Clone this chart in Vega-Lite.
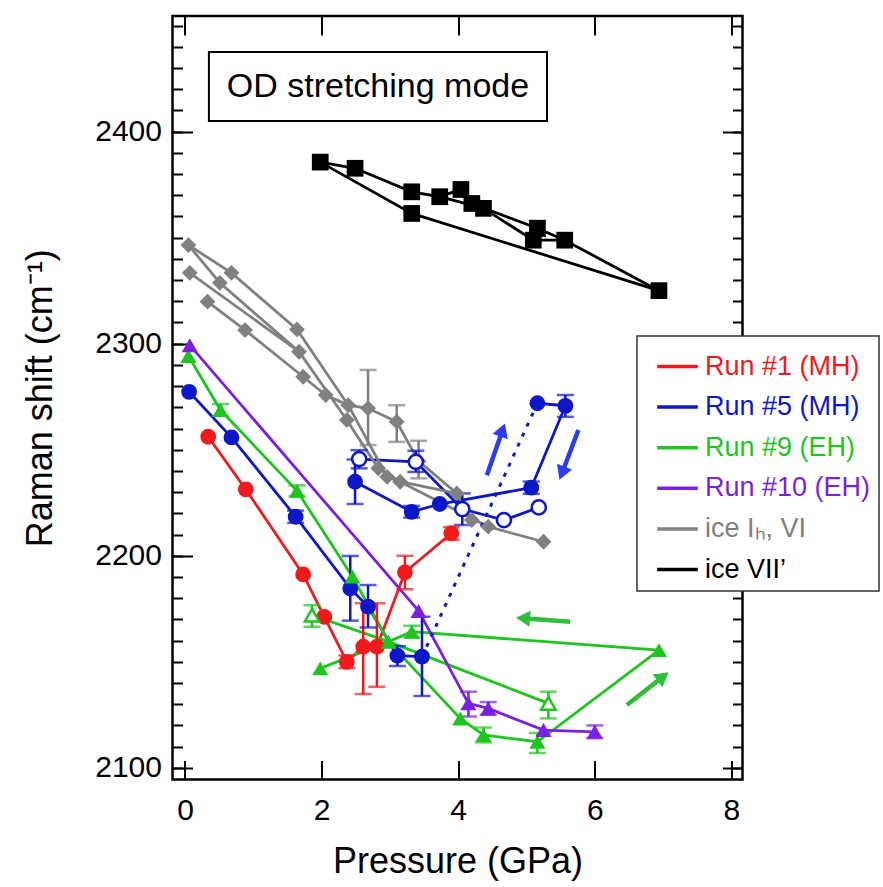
{
  "$schema": "https://vega.github.io/schema/vega-lite/v6.json",
  "width": 570,
  "height": 763.5,
  "autosize": {"type": "none"},
  "padding": {"left": 172.5, "top": 16, "right": 140.5, "bottom": 107.5},
  "background": "white",
  "config": {
    "view": {"stroke": "#000", "strokeWidth": 2.5},
    "font": "Liberation Sans",
    "axis": {"grid": false, "domain": false, "tickColor": "#000", "tickWidth": 2, "labelColor": "#000", "titleColor": "#000", "labelFont": "Liberation Sans", "titleFont": "Liberation Sans", "titleFontWeight": "normal", "labelFontSize": 30, "titleFontSize": 36}
  },
  "datasets": {
    "box": [{"t": "OD stretching mode", "x": 0.35, "x2": 5.30, "y": 2405, "y2": 2437.5, "tx": 2.825, "ty": 2421.2}],
    "arrows": [
      {"a": "b1", "x": 4.42, "y": 2238.0, "x2": 4.65, "y2": 2259.3},
      {"a": "b2", "x": 5.76, "y": 2259.3, "x2": 5.52, "y2": 2238.9},
      {"a": "g1", "x": 5.64, "y": 2168.9, "x2": 4.95, "y2": 2170.5},
      {"a": "g2", "x": 6.47, "y": 2129.6, "x2": 7.0, "y2": 2143}
    ],
    "paths": [
      {"p": "r1", "r": "Run #1 (MH)", "o": 1, "x": 0.34, "y": 2256.1},
      {"p": "r1", "r": "Run #1 (MH)", "o": 2, "x": 0.89, "y": 2231.3},
      {"p": "r1", "r": "Run #1 (MH)", "o": 3, "x": 1.73, "y": 2191.2},
      {"p": "r1", "r": "Run #1 (MH)", "o": 4, "x": 2.04, "y": 2171.2},
      {"p": "r1", "r": "Run #1 (MH)", "o": 5, "x": 2.37, "y": 2150},
      {"p": "r1", "r": "Run #1 (MH)", "o": 6, "x": 2.61, "y": 2157.1},
      {"p": "r1", "r": "Run #1 (MH)", "o": 7, "x": 2.81, "y": 2157.1},
      {"p": "r1", "r": "Run #1 (MH)", "o": 8, "x": 3.22, "y": 2192.2},
      {"p": "r1", "r": "Run #1 (MH)", "o": 9, "x": 3.90, "y": 2210.6},
      {"p": "r5a", "r": "Run #5 (MH)", "o": 1, "x": 0.06, "y": 2277.3},
      {"p": "r5a", "r": "Run #5 (MH)", "o": 2, "x": 0.68, "y": 2255.8},
      {"p": "r5a", "r": "Run #5 (MH)", "o": 3, "x": 1.62, "y": 2218.4},
      {"p": "r5a", "r": "Run #5 (MH)", "o": 4, "x": 2.42, "y": 2184.6},
      {"p": "r5a", "r": "Run #5 (MH)", "o": 5, "x": 2.68, "y": 2176},
      {"p": "r5a", "r": "Run #5 (MH)", "o": 6, "x": 3.11, "y": 2152.9},
      {"p": "r5a", "r": "Run #5 (MH)", "o": 7, "x": 3.47, "y": 2152.4},
      {"p": "r5d", "r": "Run #5 (MH)", "o": 1, "x": 3.47, "y": 2152.4},
      {"p": "r5d", "r": "Run #5 (MH)", "o": 2, "x": 5.16, "y": 2271.9},
      {"p": "r5b", "r": "Run #5 (MH)", "o": 1, "x": 5.16, "y": 2271.9},
      {"p": "r5b", "r": "Run #5 (MH)", "o": 2, "x": 5.57, "y": 2270.7},
      {"p": "r5b", "r": "Run #5 (MH)", "o": 3, "x": 5.07, "y": 2232.1},
      {"p": "r5b", "r": "Run #5 (MH)", "o": 4, "x": 3.73, "y": 2224.4},
      {"p": "r5b", "r": "Run #5 (MH)", "o": 5, "x": 3.32, "y": 2220.7},
      {"p": "r5b", "r": "Run #5 (MH)", "o": 6, "x": 2.49, "y": 2234.9},
      {"p": "r5o", "r": "Run #5 (MH)", "o": 1, "x": 2.55, "y": 2245.6},
      {"p": "r5o", "r": "Run #5 (MH)", "o": 2, "x": 3.38, "y": 2244.3},
      {"p": "r5o", "r": "Run #5 (MH)", "o": 3, "x": 4.06, "y": 2222},
      {"p": "r5o", "r": "Run #5 (MH)", "o": 4, "x": 4.67, "y": 2216.8},
      {"p": "r5o", "r": "Run #5 (MH)", "o": 5, "x": 5.18, "y": 2222.8},
      {"p": "r9a", "r": "Run #9 (EH)", "o": 1, "x": 0.05, "y": 2294.2},
      {"p": "r9a", "r": "Run #9 (EH)", "o": 2, "x": 0.52, "y": 2268.7},
      {"p": "r9a", "r": "Run #9 (EH)", "o": 3, "x": 1.64, "y": 2230.6},
      {"p": "r9a", "r": "Run #9 (EH)", "o": 4, "x": 2.45, "y": 2190.2},
      {"p": "r9a", "r": "Run #9 (EH)", "o": 5, "x": 2.98, "y": 2159.5},
      {"p": "r9a", "r": "Run #9 (EH)", "o": 6, "x": 4.03, "y": 2123.3},
      {"p": "r9a", "r": "Run #9 (EH)", "o": 7, "x": 4.37, "y": 2115.5},
      {"p": "r9a", "r": "Run #9 (EH)", "o": 8, "x": 5.16, "y": 2112.3},
      {"p": "r9a", "r": "Run #9 (EH)", "o": 9, "x": 6.94, "y": 2155.5},
      {"p": "r9a", "r": "Run #9 (EH)", "o": 10, "x": 3.32, "y": 2164.2},
      {"p": "r9a", "r": "Run #9 (EH)", "o": 11, "x": 2.98, "y": 2159.5},
      {"p": "r9a", "r": "Run #9 (EH)", "o": 12, "x": 1.98, "y": 2146.9},
      {"p": "r9o", "r": "Run #9 (EH)", "o": 1, "x": 1.86, "y": 2172},
      {"p": "r9o", "r": "Run #9 (EH)", "o": 2, "x": 2.98, "y": 2159.5},
      {"p": "r9o", "r": "Run #9 (EH)", "o": 3, "x": 5.32, "y": 2130.4},
      {"p": "r10", "r": "Run #10 (EH)", "o": 1, "x": 0.07, "y": 2299.3},
      {"p": "r10", "r": "Run #10 (EH)", "o": 2, "x": 3.42, "y": 2174},
      {"p": "r10", "r": "Run #10 (EH)", "o": 3, "x": 4.15, "y": 2130.4},
      {"p": "r10", "r": "Run #10 (EH)", "o": 4, "x": 4.44, "y": 2128},
      {"p": "r10", "r": "Run #10 (EH)", "o": 5, "x": 5.25, "y": 2117.8},
      {"p": "r10", "r": "Run #10 (EH)", "o": 6, "x": 6.0, "y": 2117},
      {"p": "k1", "r": "ice VII’", "o": 1, "x": 1.98, "y": 2385.6},
      {"p": "k1", "r": "ice VII’", "o": 2, "x": 3.32, "y": 2361.4},
      {"p": "k1", "r": "ice VII’", "o": 3, "x": 6.94, "y": 2325},
      {"p": "k2", "r": "ice VII’", "o": 1, "x": 1.98, "y": 2385.6},
      {"p": "k2", "r": "ice VII’", "o": 2, "x": 2.49, "y": 2382.7},
      {"p": "k2", "r": "ice VII’", "o": 3, "x": 3.32, "y": 2371.6},
      {"p": "k2", "r": "ice VII’", "o": 4, "x": 3.73, "y": 2369.3},
      {"p": "k2", "r": "ice VII’", "o": 5, "x": 4.04, "y": 2372.7},
      {"p": "k2", "r": "ice VII’", "o": 6, "x": 4.20, "y": 2366.1},
      {"p": "k2", "r": "ice VII’", "o": 7, "x": 5.16, "y": 2354.4},
      {"p": "k2", "r": "ice VII’", "o": 8, "x": 5.56, "y": 2348.8},
      {"p": "k2", "r": "ice VII’", "o": 9, "x": 6.94, "y": 2325},
      {"p": "k3", "r": "ice VII’", "o": 1, "x": 3.73, "y": 2369.3},
      {"p": "k3", "r": "ice VII’", "o": 2, "x": 4.37, "y": 2363.8},
      {"p": "k3", "r": "ice VII’", "o": 3, "x": 5.10, "y": 2348.8},
      {"p": "k3", "r": "ice VII’", "o": 4, "x": 5.56, "y": 2348.8},
      {"p": "g1", "r": "ice Iₕ, VI", "o": 1, "x": 0.05, "y": 2346.5},
      {"p": "g1", "r": "ice Iₕ, VI", "o": 2, "x": 0.68, "y": 2333.4},
      {"p": "g1", "r": "ice Iₕ, VI", "o": 3, "x": 1.64, "y": 2306.7},
      {"p": "g1", "r": "ice Iₕ, VI", "o": 4, "x": 2.39, "y": 2271},
      {"p": "g1", "r": "ice Iₕ, VI", "o": 5, "x": 2.68, "y": 2269.5},
      {"p": "g1", "r": "ice Iₕ, VI", "o": 6, "x": 3.10, "y": 2263.2},
      {"p": "g1", "r": "ice Iₕ, VI", "o": 7, "x": 3.42, "y": 2244.6},
      {"p": "g1", "r": "ice Iₕ, VI", "o": 8, "x": 3.98, "y": 2229.4},
      {"p": "g1", "r": "ice Iₕ, VI", "o": 9, "x": 4.20, "y": 2216.8},
      {"p": "g2", "r": "ice Iₕ, VI", "o": 1, "x": 0.05, "y": 2346.5},
      {"p": "g2", "r": "ice Iₕ, VI", "o": 2, "x": 0.51, "y": 2328.7},
      {"p": "g2", "r": "ice Iₕ, VI", "o": 3, "x": 1.67, "y": 2296.2},
      {"p": "g2", "r": "ice Iₕ, VI", "o": 4, "x": 2.37, "y": 2264},
      {"p": "g2", "r": "ice Iₕ, VI", "o": 5, "x": 2.83, "y": 2241.2},
      {"p": "g2", "r": "ice Iₕ, VI", "o": 6, "x": 3.15, "y": 2234.9},
      {"p": "g2", "r": "ice Iₕ, VI", "o": 7, "x": 3.98, "y": 2229.4},
      {"p": "g3", "r": "ice Iₕ, VI", "o": 1, "x": 0.07, "y": 2333.4},
      {"p": "g3", "r": "ice Iₕ, VI", "o": 2, "x": 1.67, "y": 2296.2},
      {"p": "g4", "r": "ice Iₕ, VI", "o": 1, "x": 0.33, "y": 2319.8},
      {"p": "g4", "r": "ice Iₕ, VI", "o": 2, "x": 0.88, "y": 2306.4},
      {"p": "g4", "r": "ice Iₕ, VI", "o": 3, "x": 1.73, "y": 2284.4},
      {"p": "g4", "r": "ice Iₕ, VI", "o": 4, "x": 2.06, "y": 2275.8},
      {"p": "g4", "r": "ice Iₕ, VI", "o": 5, "x": 2.39, "y": 2271},
      {"p": "g4", "r": "ice Iₕ, VI", "o": 6, "x": 2.96, "y": 2237.2},
      {"p": "g4", "r": "ice Iₕ, VI", "o": 7, "x": 3.15, "y": 2234.9},
      {"p": "g4", "r": "ice Iₕ, VI", "o": 8, "x": 4.44, "y": 2213.7},
      {"p": "g4", "r": "ice Iₕ, VI", "o": 9, "x": 5.25, "y": 2206.6}
    ],
    "pts": [
      {"r": "Run #1 (MH)", "x": 0.34, "y": 2256.1},
      {"r": "Run #1 (MH)", "x": 0.89, "y": 2231.3},
      {"r": "Run #1 (MH)", "x": 1.73, "y": 2191.2},
      {"r": "Run #1 (MH)", "x": 2.04, "y": 2171.2},
      {"r": "Run #1 (MH)", "x": 2.37, "y": 2150, "lo": 2147, "hi": 2153},
      {"r": "Run #1 (MH)", "x": 2.61, "y": 2157.1, "lo": 2134.8, "hi": 2177.6},
      {"r": "Run #1 (MH)", "x": 2.81, "y": 2157.1, "lo": 2138.2, "hi": 2177.6},
      {"r": "Run #1 (MH)", "x": 3.22, "y": 2192.2, "lo": 2184.2, "hi": 2200},
      {"r": "Run #1 (MH)", "x": 3.90, "y": 2210.6, "lo": 2207.5, "hi": 2213.5},
      {"r": "Run #5 (MH)", "x": 0.06, "y": 2277.3},
      {"r": "Run #5 (MH)", "x": 0.68, "y": 2255.8},
      {"r": "Run #5 (MH)", "x": 1.62, "y": 2218.4, "lo": 2215.5, "hi": 2221.3},
      {"r": "Run #5 (MH)", "x": 2.42, "y": 2184.6, "lo": 2169.4, "hi": 2199.9},
      {"r": "Run #5 (MH)", "x": 2.68, "y": 2176, "lo": 2166.2, "hi": 2186.2},
      {"r": "Run #5 (MH)", "x": 3.11, "y": 2152.9, "lo": 2148, "hi": 2157.4},
      {"r": "Run #5 (MH)", "x": 3.47, "y": 2152.4, "lo": 2133.9, "hi": 2171.2},
      {"r": "Run #5 (MH)", "x": 5.16, "y": 2271.9},
      {"r": "Run #5 (MH)", "x": 5.57, "y": 2270.7, "lo": 2265.5, "hi": 2275.8},
      {"r": "Run #5 (MH)", "x": 5.07, "y": 2232.1, "lo": 2229.2, "hi": 2235},
      {"r": "Run #5 (MH)", "x": 3.73, "y": 2224.4},
      {"r": "Run #5 (MH)", "x": 3.32, "y": 2220.7, "lo": 2218, "hi": 2223.5},
      {"r": "Run #5 (MH)", "x": 2.49, "y": 2234.9, "lo": 2224.4, "hi": 2245.4},
      {"r": "Run #5 (MH)", "x": 2.55, "y": 2245.6, "lo": 2241.2, "hi": 2249.8, "op": true},
      {"r": "Run #5 (MH)", "x": 3.38, "y": 2244.3, "lo": 2239.5, "hi": 2249.5, "op": true},
      {"r": "Run #5 (MH)", "x": 4.06, "y": 2222, "lo": 2214.5, "hi": 2229.4, "op": true},
      {"r": "Run #5 (MH)", "x": 4.67, "y": 2216.8, "op": true},
      {"r": "Run #5 (MH)", "x": 5.18, "y": 2222.8, "op": true},
      {"r": "Run #9 (EH)", "x": 0.05, "y": 2294.2},
      {"r": "Run #9 (EH)", "x": 0.52, "y": 2268.7, "lo": 2266, "hi": 2271.5},
      {"r": "Run #9 (EH)", "x": 1.64, "y": 2230.6, "lo": 2228, "hi": 2233.2},
      {"r": "Run #9 (EH)", "x": 2.45, "y": 2190.2},
      {"r": "Run #9 (EH)", "x": 2.98, "y": 2159.5},
      {"r": "Run #9 (EH)", "x": 4.03, "y": 2123.3},
      {"r": "Run #9 (EH)", "x": 4.37, "y": 2115.5, "lo": 2112, "hi": 2119},
      {"r": "Run #9 (EH)", "x": 5.16, "y": 2112.3, "lo": 2107, "hi": 2116.4},
      {"r": "Run #9 (EH)", "x": 6.94, "y": 2155.5},
      {"r": "Run #9 (EH)", "x": 3.32, "y": 2164.2, "lo": 2161.5, "hi": 2167},
      {"r": "Run #9 (EH)", "x": 1.98, "y": 2146.9},
      {"r": "Run #9 (EH)", "x": 1.86, "y": 2172, "lo": 2166.5, "hi": 2176.7, "op": true},
      {"r": "Run #9 (EH)", "x": 5.32, "y": 2130.4, "lo": 2123.3, "hi": 2135.9, "op": true},
      {"r": "Run #10 (EH)", "x": 0.07, "y": 2299.3},
      {"r": "Run #10 (EH)", "x": 3.42, "y": 2174},
      {"r": "Run #10 (EH)", "x": 4.15, "y": 2130.4, "lo": 2124.2, "hi": 2135.9},
      {"r": "Run #10 (EH)", "x": 4.44, "y": 2128, "lo": 2125, "hi": 2131},
      {"r": "Run #10 (EH)", "x": 5.25, "y": 2117.8},
      {"r": "Run #10 (EH)", "x": 6.0, "y": 2117, "lo": 2114, "hi": 2120},
      {"r": "ice VII’", "x": 1.98, "y": 2385.6},
      {"r": "ice VII’", "x": 2.49, "y": 2382.7},
      {"r": "ice VII’", "x": 3.32, "y": 2371.6},
      {"r": "ice VII’", "x": 3.32, "y": 2361.4},
      {"r": "ice VII’", "x": 3.73, "y": 2369.3},
      {"r": "ice VII’", "x": 4.04, "y": 2372.7},
      {"r": "ice VII’", "x": 4.20, "y": 2366.1},
      {"r": "ice VII’", "x": 4.37, "y": 2363.8},
      {"r": "ice VII’", "x": 5.16, "y": 2354.4, "lo": 2351, "hi": 2357.8},
      {"r": "ice VII’", "x": 5.10, "y": 2348.8},
      {"r": "ice VII’", "x": 5.56, "y": 2348.8},
      {"r": "ice VII’", "x": 6.94, "y": 2325},
      {"r": "ice Iₕ, VI", "x": 0.05, "y": 2346.5},
      {"r": "ice Iₕ, VI", "x": 0.07, "y": 2333.4},
      {"r": "ice Iₕ, VI", "x": 0.68, "y": 2333.4},
      {"r": "ice Iₕ, VI", "x": 0.51, "y": 2328.7},
      {"r": "ice Iₕ, VI", "x": 0.33, "y": 2319.8},
      {"r": "ice Iₕ, VI", "x": 0.88, "y": 2306.4},
      {"r": "ice Iₕ, VI", "x": 1.64, "y": 2306.7},
      {"r": "ice Iₕ, VI", "x": 1.67, "y": 2296.2},
      {"r": "ice Iₕ, VI", "x": 1.73, "y": 2284.4},
      {"r": "ice Iₕ, VI", "x": 2.06, "y": 2275.8},
      {"r": "ice Iₕ, VI", "x": 2.39, "y": 2271},
      {"r": "ice Iₕ, VI", "x": 2.37, "y": 2264},
      {"r": "ice Iₕ, VI", "x": 2.68, "y": 2269.5, "lo": 2252.2, "hi": 2287.6},
      {"r": "ice Iₕ, VI", "x": 3.10, "y": 2263.2, "lo": 2253.7, "hi": 2271},
      {"r": "ice Iₕ, VI", "x": 2.83, "y": 2241.2},
      {"r": "ice Iₕ, VI", "x": 2.96, "y": 2237.2},
      {"r": "ice Iₕ, VI", "x": 3.15, "y": 2234.9},
      {"r": "ice Iₕ, VI", "x": 3.42, "y": 2244.6, "lo": 2236.5, "hi": 2254.2},
      {"r": "ice Iₕ, VI", "x": 3.98, "y": 2229.4},
      {"r": "ice Iₕ, VI", "x": 4.20, "y": 2216.8},
      {"r": "ice Iₕ, VI", "x": 4.44, "y": 2213.7},
      {"r": "ice Iₕ, VI", "x": 5.25, "y": 2206.6}
    ]
  },
  "layer": [
    {
      "data": {"name": "box"},
      "mark": {"type": "rect", "fill": "white", "stroke": "#000", "strokeWidth": 2},
      "encoding": {
        "x": {"field": "x", "type": "quantitative", "scale": {"domain": [-0.183, 8.163], "nice": false, "zero": false},
          "axis": {"orient": "bottom", "values": [0, 2, 4, 6, 8], "tickSize": -19, "labelPadding": 35, "format": "d", "title": "Pressure (GPa)", "titlePadding": 19}},
        "x2": {"field": "x2"},
        "y": {"field": "y", "type": "quantitative", "scale": {"domain": [2094.5, 2454.5], "nice": false, "zero": false},
          "axis": {"orient": "left", "values": [2100, 2200, 2300, 2400], "tickSize": -20, "labelPadding": 31, "format": "d", "title": "Raman shift (cm⁻¹)", "titlePadding": 35}},
        "y2": {"field": "y2"}
      }
    },
    {
      "data": {"name": "box"},
      "mark": {"type": "text", "fontSize": 34, "font": "Liberation Sans", "color": "#000"},
      "encoding": {
        "x": {"field": "tx", "type": "quantitative", "axis": {"orient": "top", "values": [0, 2, 4, 6, 8], "tickSize": -19, "labels": false, "title": null}},
        "y": {"field": "ty", "type": "quantitative", "axis": {"orient": "left", "values": [2100, 2110, 2120, 2130, 2140, 2150, 2160, 2170, 2180, 2190, 2200, 2210, 2220, 2230, 2240, 2250, 2260, 2270, 2280, 2290, 2300, 2310, 2320, 2330, 2340, 2350, 2360, 2370, 2380, 2390, 2400, 2410, 2420, 2430, 2440, 2450], "tickSize": -10, "labels": false, "title": null}},
        "text": {"field": "t"}
      }
    },
    {
      "data": {"name": "paths"},
      "transform": [{"filter": "datum.p != 'r5d'"}],
      "mark": {"type": "line", "strokeWidth": 2.8},
      "encoding": {
        "x": {"field": "x", "type": "quantitative", "axis": null},
        "y": {"field": "y", "type": "quantitative", "axis": {"orient": "right", "values": [2100, 2200, 2300, 2400], "tickSize": -20, "labels": false, "title": null}},
        "detail": {"field": "p"},
        "order": {"field": "o"},
        "color": {"field": "r", "type": "nominal",
          "scale": {"domain": ["Run #1 (MH)", "Run #5 (MH)", "Run #9 (EH)", "Run #10 (EH)", "ice Iₕ, VI", "ice VII’"], "range": ["#f2191c", "#0d17c7", "#1ec51e", "#7b1fe3", "#808080", "#000000"]},
          "legend": {"orient": "none", "legendX": 464.5, "legendY": 320, "title": null, "symbolType": "stroke", "symbolStrokeWidth": 3.5, "symbolSize": 1650, "symbolOffset": 10, "labelFontSize": 27, "labelFont": "Liberation Sans", "labelLimit": 400, "padding": 8, "rowPadding": 4.6, "fillColor": "white", "strokeColor": "#333", "labelOffset": 5,
            "encode": {"labels": {"update": {"fill": {"scale": "color", "field": "value"}}}, "legend": {"update": {"strokeWidth": {"value": 1.5}}}}}}
      }
    },
    {
      "data": {"name": "paths"},
      "transform": [{"filter": "datum.p == 'r5d'"}],
      "mark": {"type": "line", "strokeWidth": 3, "strokeDash": [4, 7], "color": "#0d17c7"},
      "encoding": {
        "x": {"field": "x", "type": "quantitative", "axis": null},
        "y": {"field": "y", "type": "quantitative", "axis": {"orient": "right", "values": [2100, 2110, 2120, 2130, 2140, 2150, 2160, 2170, 2180, 2190, 2200, 2210, 2220, 2230, 2240, 2250, 2260, 2270, 2280, 2290, 2300, 2310, 2320, 2330, 2340, 2350, 2360, 2370, 2380, 2390, 2400, 2410, 2420, 2430, 2440, 2450], "tickSize": -10, "labels": false, "title": null}},
        "order": {"field": "o"}
      }
    },
    {
      "data": {"name": "pts"},
      "transform": [{"filter": "isValid(datum.lo)"}],
      "mark": {"type": "rule", "strokeWidth": 2.5},
      "encoding": {
        "x": {"field": "x", "type": "quantitative", "axis": null},
        "y": {"field": "lo", "type": "quantitative", "axis": null},
        "y2": {"field": "hi"},
        "color": {"field": "r", "type": "nominal", "legend": null}
      }
    },
    {
      "data": {"name": "pts"},
      "transform": [{"filter": "isValid(datum.lo)"}],
      "mark": {"type": "tick", "orient": "horizontal", "size": 17, "thickness": 2.5},
      "encoding": {
        "x": {"field": "x", "type": "quantitative", "axis": null},
        "y": {"field": "lo", "type": "quantitative", "axis": null},
        "color": {"field": "r", "type": "nominal", "legend": null}
      }
    },
    {
      "data": {"name": "pts"},
      "transform": [{"filter": "isValid(datum.hi)"}],
      "mark": {"type": "tick", "orient": "horizontal", "size": 17, "thickness": 2.5},
      "encoding": {
        "x": {"field": "x", "type": "quantitative", "axis": null},
        "y": {"field": "hi", "type": "quantitative", "axis": null},
        "color": {"field": "r", "type": "nominal", "legend": null}
      }
    },
    {
      "data": {"name": "pts"},
      "transform": [{"filter": "datum.r == 'ice Iₕ, VI'"}],
      "mark": {"type": "point", "shape": "diamond", "filled": true, "opacity": 1, "size": 250},
      "encoding": {
        "x": {"field": "x", "type": "quantitative", "axis": null},
        "y": {"field": "y", "type": "quantitative", "axis": null},
        "color": {"field": "r", "type": "nominal", "legend": null}
      }
    },
    {
      "data": {"name": "pts"},
      "transform": [{"filter": "datum.r == 'ice VII’'"}],
      "mark": {"type": "point", "shape": "square", "filled": true, "opacity": 1, "size": 280},
      "encoding": {
        "x": {"field": "x", "type": "quantitative", "axis": null},
        "y": {"field": "y", "type": "quantitative", "axis": null},
        "color": {"field": "r", "type": "nominal", "legend": null}
      }
    },
    {
      "data": {"name": "pts"},
      "transform": [{"filter": "(datum.r == 'Run #1 (MH)' || datum.r == 'Run #5 (MH)') && !datum.op"}],
      "mark": {"type": "point", "shape": "circle", "filled": true, "opacity": 1, "size": 250},
      "encoding": {
        "x": {"field": "x", "type": "quantitative", "axis": null},
        "y": {"field": "y", "type": "quantitative", "axis": null},
        "color": {"field": "r", "type": "nominal", "legend": null}
      }
    },
    {
      "data": {"name": "pts"},
      "transform": [{"filter": "(datum.r == 'Run #9 (EH)' || datum.r == 'Run #10 (EH)') && !datum.op"}],
      "mark": {"type": "point", "shape": "triangle-up", "filled": true, "opacity": 1, "size": 260},
      "encoding": {
        "x": {"field": "x", "type": "quantitative", "axis": null},
        "y": {"field": "y", "type": "quantitative", "axis": null},
        "color": {"field": "r", "type": "nominal", "legend": null}
      }
    },
    {
      "data": {"name": "pts"},
      "transform": [{"filter": "datum.r == 'Run #5 (MH)' && datum.op"}],
      "mark": {"type": "point", "shape": "circle", "filled": false, "fill": "white", "fillOpacity": 1, "opacity": 1, "strokeWidth": 2.5, "size": 200},
      "encoding": {
        "x": {"field": "x", "type": "quantitative", "axis": null},
        "y": {"field": "y", "type": "quantitative", "axis": null},
        "color": {"field": "r", "type": "nominal", "legend": null}
      }
    },
    {
      "data": {"name": "pts"},
      "transform": [{"filter": "datum.r == 'Run #9 (EH)' && datum.op"}],
      "mark": {"type": "point", "shape": "triangle-up", "filled": false, "fill": "white", "fillOpacity": 1, "opacity": 1, "strokeWidth": 2.5, "size": 210},
      "encoding": {
        "x": {"field": "x", "type": "quantitative", "axis": null},
        "y": {"field": "y", "type": "quantitative", "axis": null},
        "color": {"field": "r", "type": "nominal", "legend": null}
      }
    },
    {
      "data": {"name": "arrows"},
      "mark": {"type": "rule", "strokeWidth": 4.5},
      "encoding": {
        "x": {"field": "x", "type": "quantitative", "axis": null},
        "y": {"field": "y", "type": "quantitative", "axis": null},
        "x2": {"field": "x2"},
        "y2": {"field": "y2"},
        "color": {"condition": {"test": "datum.a == 'b1' || datum.a == 'b2'", "value": "#2a3cf5"}, "value": "#2fbf3a"}
      }
    },
    {
      "data": {"name": "arrows"},
      "mark": {"type": "point", "shape": "triangle-up", "filled": true, "opacity": 1, "size": 260},
      "encoding": {
        "x": {"field": "x2", "type": "quantitative", "axis": null},
        "y": {"field": "y2", "type": "quantitative", "axis": null},
        "color": {"condition": {"test": "datum.a == 'b1' || datum.a == 'b2'", "value": "#2a3cf5"}, "value": "#2fbf3a"},
        "angle": {"condition": [{"test": "datum.a == 'b1'", "value": 20}, {"test": "datum.a == 'b2'", "value": 201}, {"test": "datum.a == 'g1'", "value": 274}], "value": 52}
      }
    }
  ],
  "resolve": {"axis": {"x": "independent", "y": "independent"}}
}
